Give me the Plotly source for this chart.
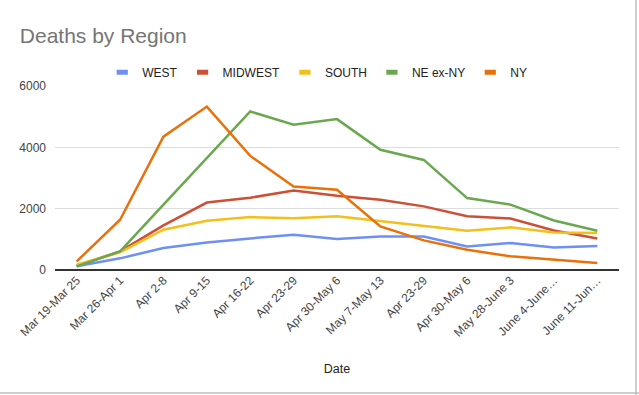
import plotly.graph_objects as go

categories = ["Mar 19-Mar 25", "Mar 26-Apr 1", "Apr 2-8", "Apr 9-15", "Apr 16-22",
              "Apr 23-29", "Apr 30-May 6", "May 7-May 13", "Apr 23-29", "Apr 30-May 6",
              "May 28-June 3", "June 4-June…", "June 11-Jun…"]
west = [120, 380, 715, 900, 1030, 1150, 1010, 1095, 1095, 770, 880, 737, 780]
midwest = [140, 607, 1455, 2200, 2355, 2595, 2420, 2290, 2075, 1750, 1680, 1290, 1030]
south = [173, 575, 1315, 1605, 1725, 1690, 1750, 1595, 1455, 1280, 1390, 1225, 1210]
ne_ex_ny = [120, 607, 2130, 3650, 5170, 4735, 4920, 3920, 3590, 2345, 2130, 1615, 1280]
ny = [280, 1640, 4350, 5330, 3720, 2720, 2615, 1420, 965, 660, 445, 335, 228]

series_names = ["WEST", "MIDWEST", "SOUTH", "NE ex-NY", "NY"]
series_values = [west, midwest, south, ne_ex_ny, ny]
colors = ["#6d90f2", "#cc5036", "#f2c01a", "#6aa84f", "#e8710a"]

x_idx = list(range(len(categories)))

fig = go.Figure()
for name, vals, col in zip(series_names, series_values, colors):
    fig.add_trace(go.Scatter(x=x_idx, y=vals, mode="lines", name=name,
                             line=dict(color=col, width=2.5), showlegend=False))
for name, col in zip(series_names, colors):
    fig.add_trace(go.Scatter(x=[None], y=[None], mode="markers", name=name,
                             marker=dict(symbol="line-ew-open", size=8, color=col,
                                         line=dict(color=col, width=5)),
                             showlegend=True))

fig.update_layout(
    width=639, height=395,
    margin=dict(l=55, r=20, t=86, b=125),
    paper_bgcolor="white", plot_bgcolor="white",
    font=dict(family="Liberation Sans, Arial, sans-serif", size=12, color="#444444"),
    title=dict(text="Deaths by Region", x=0.031, xanchor="left", y=0.91, yanchor="middle",
               font=dict(size=21, color="#757575")),
    legend=dict(orientation="h", x=0.465, xanchor="center", y=1.075, yanchor="middle",
                font=dict(size=12, color="#222222"), itemwidth=30, bgcolor="rgba(0,0,0,0)"),
    xaxis=dict(range=[-0.5, len(categories) - 0.5], tickmode="array", tickvals=x_idx,
               ticktext=categories, tickangle=-45, showgrid=False, zeroline=False,
               showline=False, ticks="", tickfont=dict(size=12, color="#444444"),
               title=dict(text="Date", font=dict(size=12.5, color="#222222"), standoff=25)),
    yaxis=dict(range=[0, 6000], tickvals=[0, 2000, 4000, 6000], showgrid=True,
               gridcolor="#dddddd", gridwidth=1, zeroline=True, zerolinecolor="#333333",
               zerolinewidth=1.5, showline=False, ticks="", ticklabelstandoff=8,
               tickfont=dict(size=12, color="#444444")),
    shapes=[
        dict(type="line", xref="paper", yref="paper", x0=(636 - 55) / 564, x1=(636 - 55) / 564,
             y0=-2, y1=2, line=dict(color="#bdbdbd", width=1.5)),
        dict(type="line", xref="paper", yref="paper", x0=-1, x1=2,
             y0=-(393 - 270) / 184, y1=-(393 - 270) / 184, line=dict(color="#bdbdbd", width=1.5)),
    ],
)

fig.write_html("out.html", config={"displayModeBar": False},
               post_script="document.body.style.margin='0';")
